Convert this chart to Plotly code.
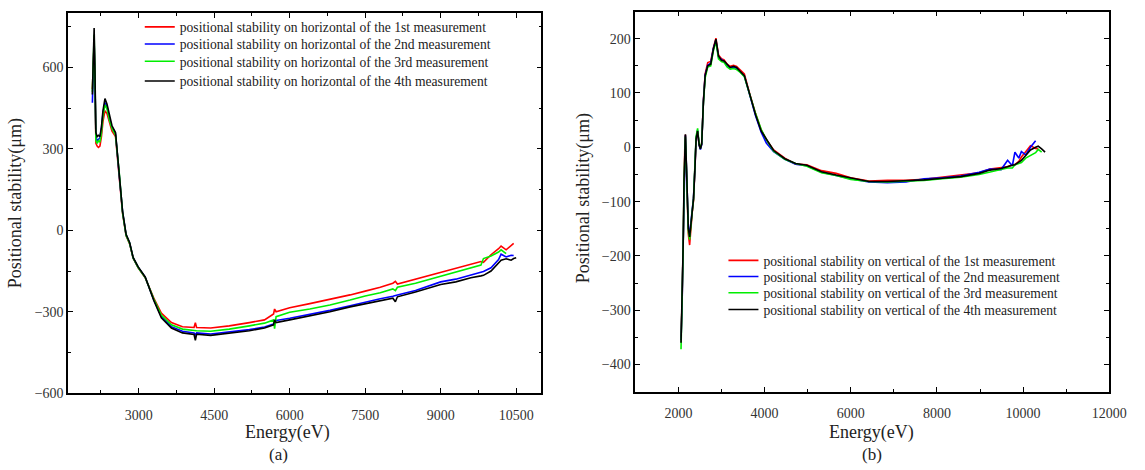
import plotly.graph_objects as go

# ---------------- Data: panel (a) horizontal ----------------
h_energy = [2080, 2100, 2115, 2130, 2150, 2175, 2200, 2230, 2260, 2290, 2330, 2370, 2420, 2470,
            2540, 2610, 2680, 2750, 2820, 2890, 2990, 3130, 3300, 3450, 3650, 3870, 4100, 4126,
            4150, 4430, 4800, 5200, 5500, 5680, 5700, 5730, 6000, 6400, 6800, 7200, 7500, 7800,
            8050, 8100, 8140, 8500, 8800, 9000, 9300, 9600, 9800, 9850, 10000, 10150, 10200,
            10300, 10400, 10450, 10500]
h_1st = [520, 640, 690, 560, 320, 310, 305, 310, 345, 400, 440, 430, 395, 365,
         345, 215, 62, -20, -50, -103, -138, -175, -250, -305, -340, -355, -358, -340,
         -358, -360, -352, -340, -330, -308, -290, -300, -285, -270, -255, -238, -224, -210,
         -195, -188, -198, -180, -165, -156, -140, -125, -115, -118, -90, -68, -58,
         -72, -58, -48, None]
h_2nd = [470, 650, 700, 560, 345, 330, 335, 340, 375, 430, 470, 455, 410, 380,
         355, 222, 68, -17, -47, -102, -136, -173, -256, -318, -355, -372, -378, -385,
         -378, -382, -375, -366, -356, -345, -335, -332, -324, -310, -295, -278, -264, -252,
         -243, -240, -238, -222, -203, -190, -180, -165, -155, -152, -138, -108, -88,
         -98, -92, -93, None]
h_3rd = [510, 660, 720, 580, 330, 320, 330, 325, 360, 420, 462, 448, 405, 375,
         350, 220, 65, -18, -48, -102, -137, -174, -253, -312, -348, -364, -370, -372,
         -370, -372, -364, -352, -342, -330, -362, -318, -302, -290, -275, -257, -242, -230,
         -216, -222, -210, -195, -180, -170, -155, -138, -128, -104, -95, -80, -72,
         -86, None, None, None]
h_4th = [500, 700, 745, 600, 360, 345, 350, 345, 380, 440, 485, 465, 420, 385,
         360, 225, 70, -15, -45, -100, -135, -172, -258, -322, -360, -378, -384, -405,
         -383, -387, -380, -370, -360, -348, -330, -340, -330, -316, -300, -282, -270, -258,
         -250, -263, -245, -227, -210, -200, -190, -175, -168, -166, -150, -118, -110,
         -105, -110, -104, -101]

# ---------------- Data: panel (b) vertical ----------------
v_energy = [2060, 2085, 2110, 2130, 2150, 2162, 2180, 2200, 2230, 2260, 2290, 2320, 2350, 2380,
            2410, 2445, 2480, 2510, 2540, 2580, 2620, 2680, 2750, 2810, 2870, 2930, 3000, 3060,
            3130, 3200, 3280, 3350, 3420, 3530, 3660, 3790, 3920, 4040, 4210, 4470, 4720, 4980,
            5320, 5660, 6000, 6420, 6850, 7280, 7700, 8130, 8550, 8980, 9230, 9490, 9640, 9750,
            9810, 9900, 9960, 10060, 10170, 10290, 10350, 10430, 10510]
v_1st = [-350, -285, -175, -58, 12, 23, -25, -70, -160, -180, -142, -120, -98, -48,
         14, 29, 4, -2, 7, 86, 135, 156, 158, 183, 201, 170, 163, 161,
         153, 149, 151, 149, 143, 135, 97, 62, 32, 14, -5, -20, -31, -32,
         -43, -48, -56, -62, -61, -61, -59, -55, -52, -47, -40, -37, -36, -32,
         -32, -26, -18, -8, 3, -2, -3, None, None]
v_2nd = [-355, -290, -178, -62, 8, 22, -22, -62, -148, -160, -135, -112, -93, -42,
         17, 31, 4, -4, 5, 85, 133, 151, 155, 182, 197, 166, 161, 158,
         150, 146, 148, 145, 140, 131, 95, 58, 28, 8, -8, -22, -31, -34,
         -46, -52, -58, -64, -65, -64, -58, -56, -53, -46, -40, -41, -24, -34,
         -9, -20, -8, -14, 0, 12, None, None, None]
v_3rd = [-372, -300, -185, -65, 5, 20, -25, -65, -155, -170, -138, -118, -96, -40,
         20, 35, 6, -2, 8, 82, 128, 148, 150, 177, 195, 163, 158, 156,
         148, 144, 145, 143, 139, 130, 94, 62, 33, 14, -7, -22, -30, -35,
         -47, -52, -59, -63, -64, -63, -61, -58, -55, -50, -45, -40, -38, -38,
         -32, -30, -28, -20, -15, -10, -4, -9, None]
v_4th = [-360, -288, -180, -60, 10, 24, -20, -60, -150, -165, -140, -115, -95, -45,
         15, 30, 5, -3, 6, 84, 132, 150, 153, 180, 199, 168, 160, 159,
         152, 147, 149, 147, 141, 132, 96, 60, 30, 15, -6, -21, -30, -33,
         -45, -51, -57, -63, -63, -62, -60, -57, -54, -48, -42, -39, -35, -33,
         -32, -28, -24, -15, -5, 0, 2, -3, -9]

h_names = ["positional stability on horizontal of the 1st measurement",
           "positional stability on horizontal of the 2nd measurement",
           "positional stability on horizontal of the 3rd measurement",
           "positional stability on horizontal of the 4th measurement"]
v_names = ["positional stability on vertical of the 1st measurement",
           "positional stability on vertical of the 2nd measurement",
           "positional stability on vertical of the 3rd measurement",
           "positional stability on vertical of the 4th measurement"]
colors = ["#ff0000", "#0000ff", "#00ee00", "#000000"]

W, H = 1145, 470
FONT = "Liberation Serif, Times New Roman, serif"


def px_x(p):
    return p / W


def px_y(p):
    return 1 - p / H


# legend row positions (pixels) for each panel
h_leg_x, h_leg_rows = 142, [27.5, 45, 62.5, 82.5]
v_leg_x, v_leg_rows = 735, [265, 281.5, 298, 315]

fig = go.Figure()
layout_legends = {}
k = 0
for name, ys, c, row in zip(h_names, [h_1st, h_2nd, h_3rd, h_4th], colors, h_leg_rows):
    k += 1
    lname = "legend" if k == 1 else f"legend{k}"
    fig.add_trace(go.Scatter(x=h_energy, y=ys, name=name, mode="lines",
                             line=dict(color=c, width=1.6), xaxis="x", yaxis="y",
                             legend=lname, connectgaps=False))
    layout_legends[lname] = dict(x=px_x(h_leg_x), y=px_y(row), xanchor="left", yanchor="middle",
                                 bgcolor="rgba(0,0,0,0)",
                                 font=dict(family=FONT, size=13.6, color="#222222"),
                                 itemwidth=30)
for name, ys, c, row in zip(v_names, [v_1st, v_2nd, v_3rd, v_4th], colors, v_leg_rows):
    k += 1
    lname = f"legend{k}"
    fig.add_trace(go.Scatter(x=v_energy, y=ys, name=name, mode="lines",
                             line=dict(color=c, width=1.6), xaxis="x2", yaxis="y2",
                             legend=lname, connectgaps=False))
    layout_legends[lname] = dict(x=px_x(v_leg_x), y=px_y(row), xanchor="left", yanchor="middle",
                                 bgcolor="rgba(0,0,0,0)",
                                 font=dict(family=FONT, size=13.6, color="#222222"),
                                 itemwidth=30)

axis_common = dict(showline=True, linecolor="black", linewidth=1.6, mirror="ticks",
                   ticks="inside", ticklen=5, tickwidth=1.3, tickcolor="black",
                   showgrid=False, zeroline=False, tickformat="d",
                   tickfont=dict(family=FONT, size=14, color="#333333"))


def minor(dt):
    return dict(ticks="inside", ticklen=3, tickwidth=1.2, tickcolor="black", dtick=dt, tick0=0)


fig.update_layout(
    width=W, height=H,
    margin=dict(l=0, r=0, t=0, b=0),
    paper_bgcolor="white", plot_bgcolor="white",
    font=dict(family=FONT, color="#222222"),
    xaxis=dict(domain=[px_x(69.3), px_x(550)], range=[1600, 11000], anchor="y",
               tick0=3000, dtick=1500, minor=minor(750), ticklabelstandoff=8, **axis_common),
    yaxis=dict(domain=[px_y(400), px_y(13.3)], range=[-600, 800], anchor="x",
               tick0=0, dtick=300, minor=minor(150), **axis_common),
    xaxis2=dict(domain=[px_x(645.5), px_x(1127)], range=[1000, 12000], anchor="y2",
                tick0=0, dtick=2000, minor=minor(1000), ticklabelstandoff=8, **axis_common),
    yaxis2=dict(domain=[px_y(398.5), px_y(11.7)], range=[-450, 250], anchor="x2",
                tick0=0, dtick=100, minor=minor(50), **axis_common),
    showlegend=True,
    **layout_legends,
)

ann = [
    dict(text="Energy(eV)", x=px_x(292), y=px_y(440), size=18, angle=0),
    dict(text="Energy(eV)", x=px_x(885.5), y=px_y(440), size=18, angle=0),
    dict(text="(a)", x=px_x(283), y=px_y(462), size=17, angle=0),
    dict(text="(b)", x=px_x(886), y=px_y(462), size=17, angle=0),
    dict(text="Positional stability(μm)", x=px_x(16), y=px_y(207), size=18, angle=-90),
    dict(text="Positional stability(μm)", x=px_x(593), y=px_y(202), size=18, angle=-90),
]
for a in ann:
    fig.add_annotation(xref="paper", yref="paper", showarrow=False,
                       xanchor="center", yanchor="middle",
                       font=dict(family=FONT, color="#222222", size=a["size"]),
                       text=a["text"], x=a["x"], y=a["y"], textangle=a["angle"])

fig.write_html("out.html")
